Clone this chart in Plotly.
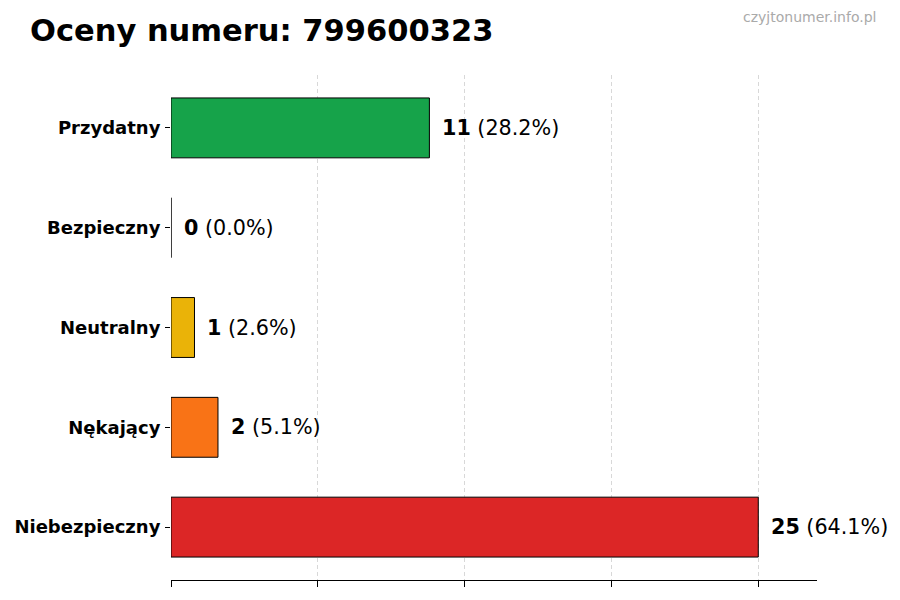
import plotly.graph_objects as go

categories = ["Niebezpieczny", "Nękający", "Neutralny", "Bezpieczny", "Przydatny"]
values = [25, 2, 1, 0, 11]
colors = ["#dc2626", "#f97316", "#eab308", "#9ca3af", "#16a34a"]
x_ticks = [0, 6.25, 12.5, 18.75, 25]

total = sum(values)

L, R, T, B = 163, 91, 67, 28
PW, PH = 900 - L - R, 600 - T - B


def px_x(x):
    return (x - 8 - L) / PW


def px_y(y):
    return 1 + (T - (y - 8)) / PH


fig = go.Figure()
fig.add_trace(go.Bar(
    y=categories, x=values, orientation="h",
    marker=dict(color=colors, line=dict(color="black", width=1)),
    width=0.6, hoverinfo="skip",
))

for c, v in zip(categories, values):
    fig.add_annotation(
        x=v, y=c, xref="x", yref="y", xanchor="left", yanchor="middle",
        xshift=11, showarrow=False,
        text=f"<b>{v}</b> ({v / total * 100:.1f}%)",
        font=dict(family="DejaVu Sans", size=20.7, color="black"),
    )

fig.add_annotation(
    x=px_x(28), y=px_y(31), xref="paper", yref="paper", showarrow=False,
    xanchor="left", yanchor="middle",
    text="<b>Oceny numeru: 799600323</b>",
    font=dict(family="DejaVu Sans", size=30.5, color="black"),
)
fig.add_annotation(
    x=px_x(878), y=px_y(17), xref="paper", yref="paper",
    xanchor="right", yanchor="middle", showarrow=False,
    text="czyjtonumer.info.pl",
    font=dict(family="DejaVu Sans", size=14, color="#aaaaaa"),
)

fig.update_layout(
    width=900, height=600,
    margin=dict(l=L, r=R, t=T, b=B, autoexpand=False),
    paper_bgcolor="white", plot_bgcolor="white",
    showlegend=False,
    font=dict(family="DejaVu Sans", color="black"),
)

fig.update_xaxes(
    range=[0, 27.5], tickvals=x_ticks, showticklabels=False,
    ticks="outside", ticklen=6, tickcolor="black",
    showline=True, linecolor="black", linewidth=1,
    showgrid=True, gridcolor="rgba(190,190,190,0.6)", griddash="4px,3px", gridwidth=1,
    zeroline=False, layer="above traces", fixedrange=True, automargin=False,
)
fig.update_yaxes(
    range=[-0.53, 4.53], ticks="outside", ticklen=5, tickcolor="black",
    showline=False, showgrid=False, zeroline=False,
    tickfont=dict(family="DejaVu Sans", size=18, color="black", weight="bold"),
    ticklabelstandoff=1, fixedrange=True, automargin=False,
)

fig.write_html("out.html")
